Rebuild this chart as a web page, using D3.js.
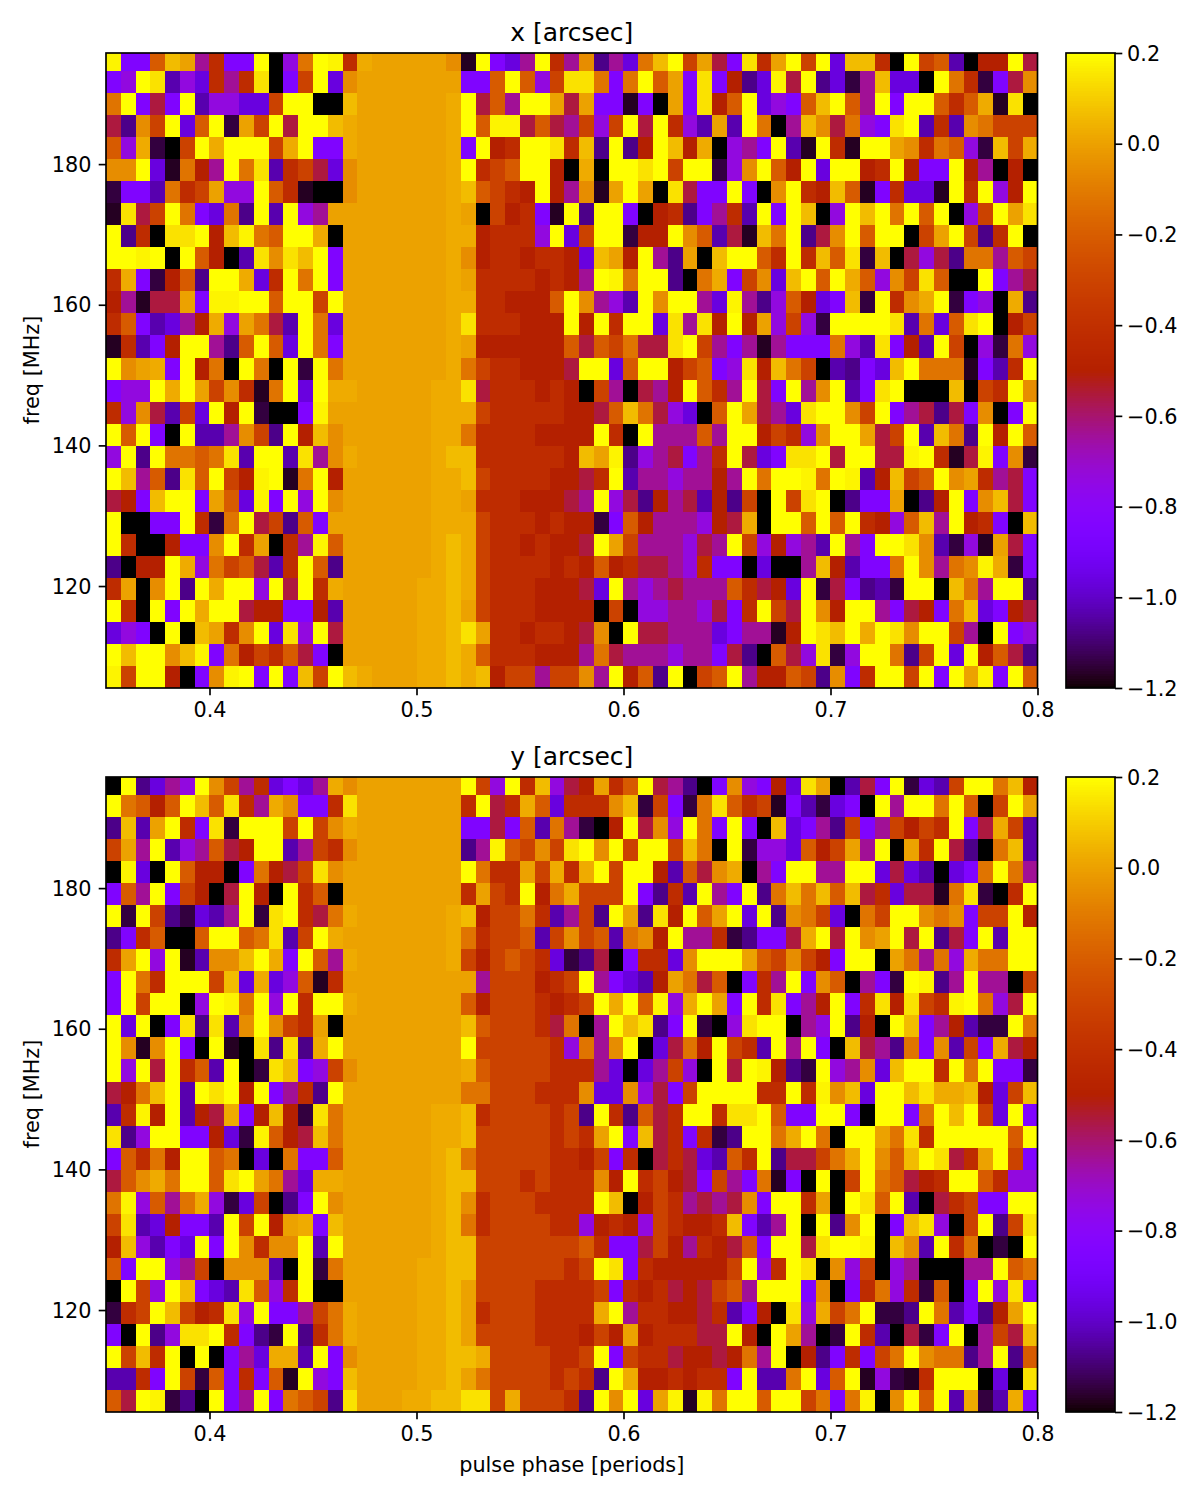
<!DOCTYPE html>
<html>
<head>
<meta charset="utf-8">
<script src="https://cdn.jsdelivr.net/npm/d3@7"></script>
<style>
  html, body { margin: 0; background: #fff; }
  svg { display: block; }
  text { font-family: "DejaVu Sans", sans-serif; fill: #000; }
</style>
</head>
<body>
<svg id="fig" width="1200" height="1500"></svg>
<script>
// Offsets per phase/frequency bin, stored as one letter per cell (top row = highest frequency).
const levelKeys = "abcdefghijklmnopqrstuv";
const levelValues = [-1.2, -1.17, -1.144, -1.074, -1.032, -0.962, -0.85, -0.738, -0.64, -0.556, -0.5,
                     -0.42, -0.31, -0.206, -0.122, -0.052, 0.004, 0.025, 0.065, 0.144, 0.179, 0.2];

const xRows = [
  "uggnsqilggvahovulrqqqq q pbvgfivlipdifosvmqjgt lqvmvfsslavmneakkvj",
  "ghvtehfliltagmvfpqqqqq q qggnvnhmttogovnqgtgkd fujvdfcisffavolcgjp",
  "ovgjgvehhffmvvaasqqqqq q rvjnivvqjqggbgaqgtknv fhgnsvnivgvvnlnrbta",
  "jdpmvfnvcqmvjvvsrqqqqq q rvnuujnjimhmvjvlheqev oaispjohgtvelepommm",
  "nhrcamvrvvvmrvggrqqqqq q rgvklvvtlsdvdkvskrahi gvebvlbvvqplonhcsmr",
  "ppvfbokivotelmjfp qqqqq q rvlmnvvkaravvtvmvvchp vnkvfvvklvkggvkiaka",
  "cggeolmqhhvnlbaap qqqqq q rsnmlkvkipbqvqatjggvg apvlksnbglffbvlvhkv",
  "btjmvogfodvevhiqq qqqqq q rqamklgbvdvvgakldgile vgvsahvsvovnvahmvqt",
  "vdlattvksuonvvraq qqqqq q rrklllhvfmvvckkvpnejb sovdjpvnvvamqvmdlva",
  "vvuvavnkaetptsvgq qqqqq q rpkllkllkfsqkvidqasvv nlvlsntcsajhjdooinm",
  "lrgckndvvrflvovgq qqqqq q rqllllklkivuovvdaorgm pfsvnvrnhpmtnaavgij",
  "kibjjqguuvvnvvmvq qqqqq q rrllkkknvpihevpvvifui dhnkfgscvlprvcghard",
  "lngefikrhqojevofq qqqqq q rtlllkkkvkvlvvftitkvk qhmhcvvvvteofntvakm",
  "blegkvvidnvnfvogq qqqqq q rqkkkkkknjnmojjtvmigi bigggohetgkevmahcoh",
  "vpqrgvkoavoavcvoq qqqqq q romllkkkjvvfnvvkmnght ksomaedgfsvooobgelv",
  "ghhvrvqmplbovfvrr qqqqq r rtjlllklkamiajikvnliv jgvipvegtvaaasamlvp",
  "lhpjemfvkvcaaguqq qqqqq r rrmlllllkkjnsojhfanvq jiftvvpmvgijdjgpagv",
  "vnvgaveeipmdvkspq qqqqq r rollllkkkkvlaviiinivv kmlhpvvqjmvesodvkvn",
  "hvdvoonotevvetipr qqqqq r ssllllllksqudhijgilvj fgttvjvvjjuvlbjugpc",
  "vsindtnvmkuvbovkq qqqqq r rsmllllkkjlveiihiikiv ovvuovueksmnvpqlijg",
  "jkgsvvgqnfugvhvpq qqqqq r rqlllkkkjivhjdkijekdm avmtvadggqadkvgpsjg",
  "vaaggvlcovjmdngqq qqqqq r rrmlllklkkcgnkiiihkjr avvnvnvlkhnsivklgas",
  "vlaakggpvlqaliunq qqqqq r srmllklkkjvqmiiihjivm hkhievigvvtpechbqjg",
  "dakkvrhomnjelvndq qqqqq r srmllllklknkljjihlgga faaiskeggovpiopurcg",
  "lqapvdvrvvhvjvlrq qqqqr r srmlllkkkjfvihijiiinl jkfvcjgdecvvasoivvd",
  "vlavgvrvvjkkggkeq qqqqr r sqmlllkkkkamahhiihjgl vmjvpkvvigjkgosfgkj",
  "fhgavasqlpvfthvjq qqqqr r stqllkllkjpavjjiiifgi ibkvtsvrvtpvvmiavgh",
  "vsvvpsugokmlnjgaq qqqqr r srnlllkkkiojiiihiigjd anjhtchvvodmvfvknjd",
  "umvvkagpuvgvgsmvsr qqqr r srskmmimmpivkndvamnvi kknmdpglvvmvgvqugvn"
];

const yRows = [
  "avdfihvpmilfgfirp qqqqq q qvmhvlshjkqlnvjidagph gkftqaejgvcfemvvosk",
  "vonknvsntlirpgglt qqqqq q qlvjlrnflllpscmgcotnl mbgecfgavivvovnamvq",
  "dseqvlgtcvvvmvmpr qqqqq q qggjgneoicakvjphvogvg asfgidmgimkmlvgjrme",
  "mqivehinjkvveimlp qqqqq q qdiunmpmtvpvmvvmsoavc hhfnkmqivaqlvjdaose",
  "aufavnkkagokjmtpq qqqqq q qvollqmrlrvmvvkenjpra igvviivvfjfeafgovoi",
  "gnivgmkajvkavlnaq qqqqq q qlqmlvkormmmvgdlevigv dososnsjlfjjbotcalv",
  "vcvmdcfeivctvljor qqqqq q rskmmoleimdvqdtkvnqvf vdpomfaomvvpopgmmvk",
  "dglnaanvvnotemvrq qqqqq q rolmmnempmneopkviilcd ggjrvjvpqvjvdjgvevv",
  "lqvhvbeppsvrgvnir qqqqq q rmkmnmlfcdjagllfpvvvq nmpmkgvvaqoiohroovv",
  "gvolvvvmsfrfhnblq qqqqq q qqimmmklmvigfekqojnag livgpnaigcvudiviiam",
  "gvmvvahvuovhvlvvr qqqqq q qnkmmmlklmvrvnuhrvqgv ltgikvgltktmluvohjv",
  "vfvagtdtepvpmlqaq qqqqq q qsnmmmljoaivstdgvcaht vvaihvdkavsgikeccvo",
  "vpbpvgavbatdtdrvq qqqqq q qvmmmmmlhoipvafjokvml evivgasjidogpemgrjk",
  "vhvjvlnevactsghmp qqqqq q qrnmmmmlllifafimhavjv ukdcvhipfsvvlvovggc",
  "jkosvevtvkvgildvq qqqqq q qoommmlllpffphjgmvvvv llvlupsfvvstrrskfms",
  "elukvekjrgkskctoq qqqqq r rslmmmmlmdvldnjlvvltt vnggvvgavvgovsvmfvg",
  "tdhvvggkfcunkjsoq qqqqq r rsmmmmmlmlqvgsjlglcdv vorvoavvqotlvvvvvnv",
  "gnlokvvnoafaoggnq qqqqq r sommmmmllkmglajljfenl vdjjmorvpnsvtjlqvmg",
  "jnprovvntvqoifrrq qqqqq r ssmmmlmlllpkvlmkjgmig obgavamvonjklvvnlhh",
  "ouhniorhcfmadgvpq qqqqq r splmmmllllvsakmlijijp gvvlqavtnveajlmggvv",
  "mtefkggevmvkqrgsq qqqqq r solmmmmllhklkhmlkklsg eivavdpvagsthamvdmt",
  "kshegfvgvplppvevq qqqqq r ssmmmmmmmnlggjmkilkjn gvvjtvvuaspevloacav",
  "ngvvhimapppeavcoq qqqqr r ssmmmmmmlmvtglkkkkkmv hlvtaphmahiaaaiivno",
  "avmhvsgfetnhlvaaq qqqqr r sqmmmmllllmglkljkjmni vvvgpaglohlcnagvhtg",
  "clmvsmklthvggimor qqqqr r sqlmmmllllrvillkkjleg kathrmovccdvoegdkqv",
  "gavdhttvlgdcvdlor qqqqr r sqmmmmlllkmkqkllljjvk avqiacvleajcgvaimjs",
  "vmslvavagifrrevgp qqqqr r ssrmmmmllmvgmlljkkjko ivakdglgmovpoodivdn",
  "eelgvmcnglgnbvhgs qqqqr r sqommmmlmldvrkklkllgv eeovfnvbhcblvvvafat",
  "njvucdavgivgonmdt qqqrr s sttmrmmmldvpvfqubuovv nvvmogouapvnvercerg"
];

const phaseDomain = [0.35, 0.8];
const freqDomain = [105.5, 195.8];
const freqBinWidth = 3.133;
const colorDomain = [-1.2, 0.2];
const phaseTicks = [0.4, 0.5, 0.6, 0.7, 0.8];
const freqTicks = [120, 140, 160, 180];
const colorTicks = [-1.2, -1.0, -0.8, -0.6, -0.4, -0.2, 0.0, 0.2];

const decodeRow = row => [...row.replace(/\s/g, "")].map(c => levelValues[levelKeys.indexOf(c)]);
const decodeGrid = rows => rows.map(decodeRow);

// The "gnuplot" colour map: red = sqrt(t), green = t^3, blue = sin(2*pi*t).
const gnuplot = t => {
  t = Math.max(0, Math.min(1, t));
  const c = v => Math.round(255 * Math.max(0, Math.min(1, v)));
  return `rgb(${c(Math.sqrt(t))},${c(t * t * t)},${c(Math.sin(2 * Math.PI * t))})`;
};
const colorOf = v => gnuplot(d3.scaleLinear().domain(colorDomain).range([0, 1])(v));

const svg = d3.select("#fig");
const frame = { left: 106, right: 1037.5, barLeft: 1066, barRight: 1115, height: 635 };
const spineWidth = 1.67, tickLength = 7.3, tickPad = 7.3, labelSize = 20.8, titleSize = 25;

function styleAxis(g) {
  g.selectAll(".domain").remove();
  g.selectAll(".tick line").attr("stroke", "#000").attr("stroke-width", spineWidth);
  g.selectAll(".tick text").attr("font-size", labelSize)
    .attr("font-family", '"DejaVu Sans", sans-serif').attr("fill", "#000");
}

function drawPanel(grid, top, title, showXLabel) {
  const x = d3.scaleLinear().domain(phaseDomain).range([frame.left, frame.right]);
  const y = d3.scaleLinear().domain(freqDomain).range([top + frame.height, top]);
  const nRows = grid.length, nCols = grid[0].length;
  const phaseEdge = d3.scaleLinear().domain([0, nCols]).range(phaseDomain);
  // Frequency bins count up from the lower limit; the highest bin is cut off by the axis.
  const freqEdge = r => Math.min(freqDomain[1], freqDomain[0] + (nRows - r) * freqBinWidth);

  const cells = grid.flatMap((row, r) => row.map((v, c) => ({ r, c, v })));
  svg.append("g").attr("shape-rendering", "crispEdges")
    .selectAll("rect").data(cells).join("rect")
    .attr("x", d => Math.round(x(phaseEdge(d.c))))
    .attr("y", d => Math.round(y(freqEdge(d.r))))
    .attr("width", d => Math.round(x(phaseEdge(d.c + 1))) - Math.round(x(phaseEdge(d.c))))
    .attr("height", d => Math.round(y(freqEdge(d.r + 1))) - Math.round(y(freqEdge(d.r))))
    .attr("fill", d => colorOf(d.v));

  svg.append("g").attr("transform", `translate(0,${top + frame.height})`)
    .call(d3.axisBottom(x).tickValues(phaseTicks).tickSize(tickLength).tickPadding(tickPad).tickFormat(d3.format(".1f")))
    .call(styleAxis);
  svg.append("g").attr("transform", `translate(${frame.left},0)`)
    .call(d3.axisLeft(y).tickValues(freqTicks).tickSize(tickLength).tickPadding(tickPad).tickFormat(d3.format("d")))
    .call(styleAxis)
    .call(g => g.selectAll(".tick text").attr("transform", "translate(0,0.5)"));

  svg.append("rect").attr("x", frame.left).attr("y", top)
    .attr("width", frame.right - frame.left).attr("height", frame.height)
    .attr("fill", "none").attr("stroke", "#000").attr("stroke-width", spineWidth);

  svg.append("text").attr("x", (frame.left + frame.right) / 2).attr("y", top - 12)
    .attr("text-anchor", "middle").attr("font-size", titleSize).text(title);
  svg.append("text")
    .attr("transform", `translate(39,${top + frame.height / 2 - 0.5}) rotate(-90)`)
    .attr("text-anchor", "middle").attr("font-size", labelSize).text("freq [MHz]");
  if (showXLabel) {
    svg.append("text").attr("x", (frame.left + frame.right) / 2).attr("y", top + frame.height + 60)
      .attr("text-anchor", "middle").attr("font-size", labelSize).text("pulse phase [periods]");
  }

  // Colour bar beside the panel.
  const cy = d3.scaleLinear().domain(colorDomain).range([top + frame.height, top]);
  const steps = d3.range(256);
  const stepValue = d3.scaleLinear().domain([0, 256]).range(colorDomain);
  svg.append("g").attr("shape-rendering", "crispEdges")
    .selectAll("rect").data(steps).join("rect")
    .attr("x", frame.barLeft).attr("width", frame.barRight - frame.barLeft)
    .attr("y", d => Math.floor(cy(stepValue(d + 1))))
    .attr("height", d => Math.ceil(cy(stepValue(d))) - Math.floor(cy(stepValue(d + 1))))
    .attr("fill", d => colorOf(stepValue(d + 0.5)));
  svg.append("g").attr("transform", `translate(${frame.barRight},0)`)
    .call(d3.axisRight(cy).tickValues(colorTicks).tickSize(tickLength).tickPadding(tickPad - 2.5).tickFormat(d3.format(".1f")))
    .call(styleAxis)
    .call(g => g.selectAll(".tick text").attr("transform", "translate(0,0.5)"));
  svg.append("rect").attr("x", frame.barLeft).attr("y", top)
    .attr("width", frame.barRight - frame.barLeft).attr("height", frame.height)
    .attr("fill", "none").attr("stroke", "#000").attr("stroke-width", spineWidth);
}

drawPanel(decodeGrid(xRows), 53, "x [arcsec]", false);
drawPanel(decodeGrid(yRows), 777, "y [arcsec]", true);
</script>
</body>
</html>
